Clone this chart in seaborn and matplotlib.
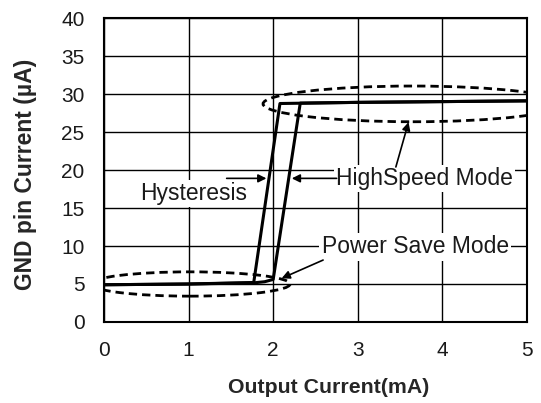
import seaborn as sns
import matplotlib.pyplot as plt
import pandas as pd
from matplotlib.patches import Ellipse

# --------------------------------------------------------------
# Data
# --------------------------------------------------------------
# rising load current (right branch)
up_x = [0.0, 1.0, 1.77, 1.9, 2.0, 2.32, 3.0, 4.0, 5.0]
up_y = [4.9, 5.0, 5.15, 5.3, 5.6, 28.8, 28.9, 29.0, 29.1]
# falling load current (left branch)
down_x = [5.0, 4.0, 3.0, 2.08, 1.77, 1.0, 0.0]
down_y = [29.1, 29.0, 28.9, 28.75, 5.2, 5.0, 4.9]

x_ticks = [0, 1, 2, 3, 4, 5]
y_ticks = [0, 5, 10, 15, 20, 25, 30, 35, 40]

df_up = pd.DataFrame({"x": up_x, "y": up_y})
df_down = pd.DataFrame({"x": down_x, "y": down_y})

sns.set_style("white")
plt.rcParams["font.family"] = ["Liberation Sans", "DejaVu Sans"]

fig = plt.figure(figsize=(5.41, 4.03), dpi=100)
ax = fig.add_axes([0.1922, 0.201, 0.7819, 0.7543])

sns.lineplot(data=df_up, x="x", y="y", sort=False, color="black", lw=2.2, ax=ax, zorder=4)
sns.lineplot(data=df_down, x="x", y="y", sort=False, color="black", lw=2.2, ax=ax, zorder=4)

# dashed ellipses marking the two modes
dash = (0, (3, 1.8))
ax.add_patch(Ellipse((3.65, 28.7), 3.54, 4.7, fill=False, ec="black", lw=2, ls=dash, zorder=3))
ax.add_patch(Ellipse((1.02, 5.0), 2.36, 3.2, fill=False, ec="black", lw=2, ls=dash, zorder=3))

ax.set_xlim(0, 5)
ax.set_ylim(0, 40)
ax.set_xticks(x_ticks)
ax.set_yticks(y_ticks)
ax.grid(True, color="black", lw=1)
ax.tick_params(length=0, pad=14, labelsize=15, colors="#1a1a1a")
for s in ax.spines.values():
    s.set_color("black")
    s.set_linewidth(1.5)

ax.set_xlabel("Output Current(mA)", fontsize=15.3, fontweight="bold")
ax.set_ylabel("GND pin Current (µA)", fontsize=16.5, fontweight="bold")
ax.xaxis.set_label_coords(0.53, -0.185)
ax.yaxis.set_label_coords(-0.158, 0.484)

# annotations
box = dict(boxstyle="square,pad=0.1", fc="white", ec="none")
arrow = dict(arrowstyle="-|>", color="black", lw=1.2, mutation_scale=12, shrinkA=0, shrinkB=0)
txt = dict(fontsize=16.5, color="#1a1a1a", bbox=box, zorder=5)

ax.text(1.06, 16.9, "Hysteresis", ha="center", va="center", **txt)
ax.annotate("", xy=(1.92, 18.9), xytext=(1.45, 18.9), arrowprops=arrow, zorder=6)
ax.annotate("", xy=(2.22, 18.9), xytext=(2.75, 18.9), arrowprops=arrow, zorder=6)

ax.text(3.79, 18.9, "HighSpeed Mode", ha="center", va="center", **txt)
ax.annotate("", xy=(3.6, 26.3), xytext=(3.45, 20.4), arrowprops=arrow, zorder=6)

ax.text(3.68, 9.9, "Power Save Mode", ha="center", va="center", **txt)
ax.annotate("", xy=(2.1, 5.75), xytext=(2.59, 8.15), arrowprops=arrow, zorder=6)

fig.savefig("out.png", dpi=100)
